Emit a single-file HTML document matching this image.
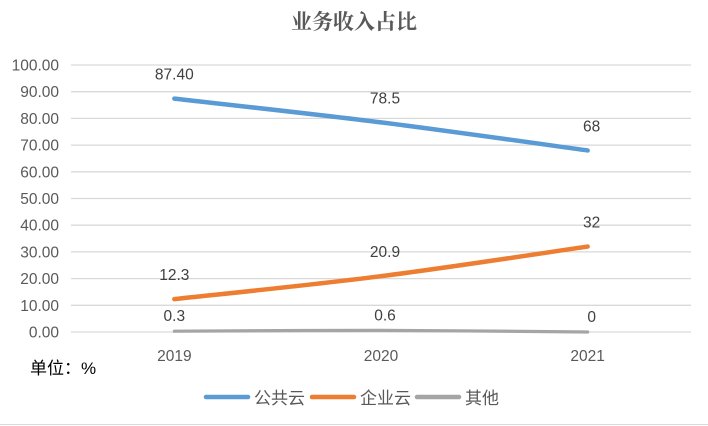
<!DOCTYPE html>
<html><head><meta charset="utf-8"><style>
body{margin:0;background:#fff;}
svg{display:block;font-family:"Liberation Sans","Noto Sans CJK SC",sans-serif;}
</style></head><body>
<svg id="chart" width="708" height="426">
<rect x="0" y="0" width="708" height="426" fill="#fff"/>
<line x1="0" y1="424.5" x2="708" y2="424.5" stroke="#d9d9d9"/>
<text x="354" y="29" text-anchor="middle" font-size="21" font-weight="bold" fill="#595959" font-family="'Noto Serif CJK SC','Noto Sans CJK SC',serif">业务收入占比</text>
<g id="grid"></g><g id="yticks"></g><g id="xticks"></g><g id="series"></g><g id="labels"></g>
<text x="30" y="374" font-size="17" fill="#000">单位：%</text>
<g id="legend"></g>
</svg>
<script>
const categories=["2019","2020","2021"];
const seriesNames=["公共云","企业云","其他"];
const publicCloud=[87.4,78.5,68];
const enterpriseCloud=[12.3,20.9,32];
const otherVals=[0.3,0.6,0];
const valueLabels=[["87.40","78.5","68"],["12.3","20.9","32"],["0.3","0.6","0"]];
const yTicks=[0,10,20,30,40,50,60,70,80,90,100];
const yTickLabels=["0.00","10.00","20.00","30.00","40.00","50.00","60.00","70.00","80.00","90.00","100.00"];
const colors=["#5b9bd5","#ed7d31","#a5a5a5"];
const NS="http://www.w3.org/2000/svg";
const L=71,R=691,T=65,B=332;
const y=v=>B-(v/100)*(B-T);
const x=i=>L+(R-L)*(i+0.5)/categories.length;
function mk(tag,attrs,parent){const e=document.createElementNS(NS,tag);for(const k in attrs)e.setAttribute(k,attrs[k]);parent.appendChild(e);return e;}
const grid=document.getElementById('grid'),yt=document.getElementById('yticks');
yTicks.forEach((v,i)=>{
 const l=mk('line',{x1:L,x2:R,y1:y(v),y2:y(v),stroke:'#d9d9d9','stroke-width':1.3},grid);
 
 
 const t=mk('text',{x:59,y:y(v)+5.5,'text-anchor':'end','font-size':15.5,fill:'#595959'},yt);
 t.textContent=yTickLabels[i];
 
 
});
const xt=document.getElementById('xticks');
categories.forEach((c,i)=>{
 const t=mk('text',{x:x(i),y:361,'text-anchor':'middle','font-size':15.5,fill:'#595959'},xt);
 t.textContent=c;
 
 
});
function smooth(pts){
 let d=`M${pts[0][0]},${pts[0][1]}`;
 for(let i=0;i<pts.length-1;i++){
  const p0=pts[i-1]||pts[i],p1=pts[i],p2=pts[i+1],p3=pts[i+2]||p2,k=1/6;
  d+=` C${p1[0]+(p2[0]-p0[0])*k},${p1[1]+(p2[1]-p0[1])*k} ${p2[0]-(p3[0]-p1[0])*k},${p2[1]-(p3[1]-p1[1])*k} ${p2[0]},${p2[1]}`;
 }
 return d;
}
const sg=document.getElementById('series'),lg=document.getElementById('labels');
const widths=[4.5,4.5,3.2];
const offs=[19,19,10];
[publicCloud,enterpriseCloud,otherVals].forEach((vals,s)=>{
 const p=mk('path',{d:smooth(vals.map((v,i)=>[x(i),y(v)])),fill:'none',stroke:colors[s],'stroke-width':widths[s],'stroke-linecap':'round'},sg);
 
 
 vals.forEach((v,i)=>{
  const t=mk('text',{x:x(i)+(i==0?0:4),y:y(v)-offs[s],'text-anchor':'middle','font-size':15.5,fill:'#404040'},lg);
  t.textContent=valueLabels[s][i];
  
  
 });
});
const leg=document.getElementById('legend');
const lx=[206,312,417];
seriesNames.forEach((n,s)=>{
 const l=mk('line',{x1:lx[s],x2:lx[s]+42,y1:397,y2:397,stroke:colors[s],'stroke-width':4.5,'stroke-linecap':'round'},leg);
 
 
 const t=mk('text',{x:lx[s]+48,y:404,'font-size':17,fill:'#595959'},leg);
 t.textContent=n;
 
 
});
</script>
</body></html>
